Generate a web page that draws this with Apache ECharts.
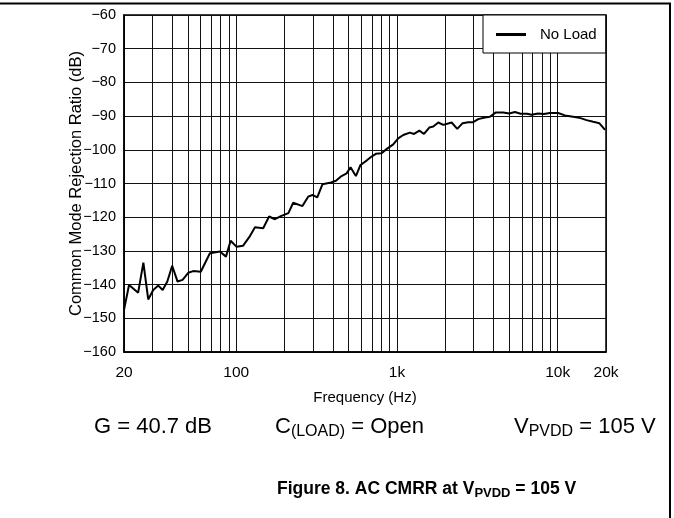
<!DOCTYPE html>
<html><head><meta charset="utf-8">
<script src="https://cdn.jsdelivr.net/npm/echarts@6/dist/echarts.min.js"></script>
<style>html,body{margin:0;padding:0;background:#fff}#c{width:674px;height:518px}</style>
</head><body><div id="c"></div>
<script>
const freqs = [20,21.5,24.5,26.4,28.3,30.4,32.7,34.8,37.2,39.9,43.1,46.3,50.2,54,60.1,68.5,79.1,86.2,92.2,100.5,110,121.6,130.7,147,160,174,191,211,226,258,280,298,319,344,382,417,452,486,514,555,593,647,695,739,802,861,948,1018,1094,1203,1277,1378,1473,1589,1683,1808,1942,2189,2373,2562,2776,2982,3204,3527,3788,4127,4583,4998,5422,5878,6463,6880,7567,8209,8946,10080,11090,12490,13890,15140,16660,18160,19720];
const cmrr = [-147.5,-140.1,-142.4,-133.5,-144.4,-141.6,-140.3,-141.6,-139.1,-134.4,-139.1,-138.6,-136.5,-136,-136.2,-130.7,-130.2,-131.7,-127,-128.8,-128.5,-125.6,-123,-123.3,-119.8,-120.6,-119.6,-118.8,-115.7,-116.7,-113.9,-113.4,-114.1,-110.2,-109.8,-109.2,-107.8,-107,-105.2,-107.8,-104.5,-103.2,-102,-101.2,-101,-99.8,-98.4,-96.6,-95.6,-94.9,-95.3,-94.3,-95.3,-93.4,-93.1,-91.9,-92.6,-91.9,-93.8,-92.1,-91.8,-91.8,-90.9,-90.4,-90.2,-88.9,-88.9,-89.2,-88.8,-89.3,-89.3,-89.6,-89.2,-89.4,-89.1,-89.1,-89.8,-90.2,-90.6,-91.2,-91.7,-92.1,-94.1];
const gridFreqs = [20,30,40,50,60,70,80,90,100,200,300,400,500,600,700,800,900,1000,2000,3000,4000,5000,6000,7000,8000,9000,10000,20000];
const xLabels = [20,100,1000,10000,20000];
const seriesName = 'No Load';

const chart = echarts.init(document.getElementById('c'), null, {renderer:'canvas'});
const font = 'Liberation Sans, Arial, sans-serif';
const richMain = {
  n:{fontFamily:font,fontSize:22,lineHeight:30,color:'#000',verticalAlign:'top'},
  s:{fontFamily:font,fontSize:16,lineHeight:16,color:'#000',padding:[8,0,0,0],verticalAlign:'top'}
};
const richTitle = {
  n:{fontFamily:font,fontSize:17.5,lineHeight:24,fontWeight:'bold',color:'#000',verticalAlign:'top'},
  s:{fontFamily:font,fontSize:13,lineHeight:13,fontWeight:'bold',color:'#000',padding:[7,0,0,0],verticalAlign:'top'}
};
chart.setOption({
  animation:false,
  backgroundColor:'#fff',
  grid:{left:124,right:68,top:15,bottom:166,show:true,borderColor:'#000',borderWidth:1.5,backgroundColor:'transparent'},
  legend:{
    data:[{name:seriesName,icon:'rect'}],
    left:483, top:15,
    backgroundColor:'#fff', borderColor:'#000', borderWidth:1,
    padding:[12,9,11,13], itemWidth:30, itemHeight:3, itemGap:10,
    textStyle:{fontFamily:font,fontSize:15,color:'#000',padding:[0,0,0,9]},
    itemStyle:{color:'#000'}
  },
  xAxis:{
    type:'log', logBase:10, min:20, max:20000,
    name:'Frequency (Hz)', nameLocation:'middle', nameGap:38,
    nameTextStyle:{fontFamily:font,fontSize:15,color:'#000'},
    axisLine:{show:true,lineStyle:{color:'#000',width:1.5}},
    axisTick:{show:false,customValues:gridFreqs},
    splitLine:{show:true,lineStyle:{color:'#111',width:1}},
    axisLabel:{customValues:xLabels,fontFamily:font,fontSize:15.5,color:'#000',margin:13,
      formatter:v=>v>=1000?(v/1000)+'k':String(v)}
  },
  yAxis:{
    type:'value', min:-160, max:-60, interval:10,
    name:'Common Mode Rejection Ratio (dB)', nameLocation:'middle', nameGap:39,
    nameMoveOverlap:false,
    nameTextStyle:{fontFamily:font,fontSize:16.5,color:'#000'},
    axisLine:{show:true,lineStyle:{color:'#000',width:1.5}},
    axisTick:{show:false},
    splitLine:{show:true,lineStyle:{color:'#111',width:1}},
    axisLabel:{fontFamily:font,fontSize:14.5,color:'#000',margin:8,
      formatter:v=>String(v).replace('-','\u2212')}
  },
  series:[{
    name:seriesName, type:'line', showSymbol:false, symbol:'none',
    data:freqs.map((f,i)=>[f,cmrr[i]]),
    lineStyle:{color:'#000',width:2}, itemStyle:{color:'#000'}, z:5
  }],
  graphic:[
    {type:'line',shape:{x1:0,y1:3.5,x2:671,y2:3.5},style:{stroke:'#000',lineWidth:2}},
    {type:'line',shape:{x1:670,y1:3,x2:670,y2:518},style:{stroke:'#000',lineWidth:2}},
    {type:'text',left:94,top:416,style:{text:'G = 40.7 dB',font:'22px '+font,fill:'#000'}},
    {type:'text',left:275,top:416,style:{text:'{n|C}{s|(LOAD)}{n| = Open}',fill:'#000',rich:richMain}},
    {type:'text',left:514,top:416,style:{text:'{n|V}{s|PVDD}{n| = 105 V}',fill:'#000',rich:richMain}},
    {type:'text',left:277,top:480,style:{text:'{n|Figure 8. AC CMRR at V}{s|PVDD}{n| = 105 V}',fill:'#000',rich:richTitle}}
  ]
});
</script></body></html>
